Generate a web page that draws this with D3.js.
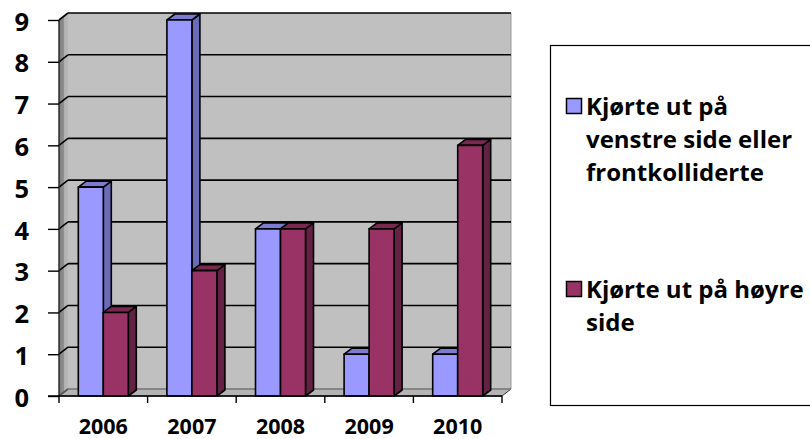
<!DOCTYPE html>
<html>
<head>
<meta charset="utf-8">
<script src="https://cdn.jsdelivr.net/npm/d3@7"></script>
<style>
  html, body { margin: 0; padding: 0; background: #ffffff; }
  svg { display: block; }
</style>
</head>
<body>
<svg id="chart" width="810" height="439"></svg>
<script>
// Ulykker fordelt på utforkjøringstype, 2006–2010
const years = ["2006", "2007", "2008", "2009", "2010"];
const venstreSide = [5, 9, 4, 1, 1];
const hoyreSide = [2, 3, 4, 4, 6];
const yTicks = [0, 1, 2, 3, 4, 5, 6, 7, 8, 9];
const seriesNames = ["Kjørte ut på venstre side eller frontkolliderte", "Kjørte ut på høyre side"];
const legendLines = [
  ["Kjørte ut på", "venstre side eller", "frontkolliderte"],
  ["Kjørte ut på høyre", "side"]
];

const series = [venstreSide, hoyreSide];
const colors = [
  { front: "#9999ff", side: "#6a6ab8", top: "#7b7bd0" },
  { front: "#993366", side: "#632144", top: "#7a2850" }
];

const svg = d3.select("#chart");
const FONT = "'Open Sans', 'DejaVu Sans', sans-serif";

// plot geometry: front plane and wall depth offset
const x = d3.scaleBand().domain(years).range([59, 502]).paddingInner(0).paddingOuter(0);
const xs = d3.scaleBand().domain([0, 1]).range([0, x.bandwidth()]).paddingInner(0).paddingOuter(0.772);
const y = d3.scaleLinear().domain([0, 9]).range([396, 20]);
const wall = { dx: 9, dy: -7 };
const barDepth = { dx: 8, dy: -6 };

const x0 = x.range()[0], x1 = x.range()[1];
const yBase = y(0), yTop = y(9);

const defs = svg.append("defs");
const sideGrad = defs.append("linearGradient").attr("id", "sideWall")
  .attr("x1", "0").attr("x2", "1").attr("y1", "0").attr("y2", "0");
sideGrad.append("stop").attr("offset", "0").attr("stop-color", "#7e7e7e");
sideGrad.append("stop").attr("offset", "0.5").attr("stop-color", "#8e8e8e");
sideGrad.append("stop").attr("offset", "0.55").attr("stop-color", "#b0b0b0");
sideGrad.append("stop").attr("offset", "1").attr("stop-color", "#b8b8b8");

const poly = pts => pts.map(p => p.join(",")).join(" ");

// back wall
svg.append("rect")
  .attr("x", x0 + wall.dx).attr("y", yTop + wall.dy)
  .attr("width", x1 - x0).attr("height", yBase - yTop)
  .attr("fill", "#c0c0c0");
svg.append("line")
  .attr("x1", x1 + wall.dx).attr("x2", x1 + wall.dx)
  .attr("y1", yTop + wall.dy).attr("y2", yBase + wall.dy)
  .attr("stroke", "#9a9a9a").attr("stroke-width", 1);

// side wall
svg.append("polygon")
  .attr("points", poly([[x0, yBase], [x0 + wall.dx, yBase + wall.dy], [x0 + wall.dx, yTop + wall.dy], [x0, yTop]]))
  .attr("fill", "url(#sideWall)");

// floor
svg.append("polygon")
  .attr("points", poly([[x0, yBase], [x1, yBase], [x1 + wall.dx, yBase + wall.dy], [x0 + wall.dx, yBase + wall.dy]]))
  .attr("fill", "#b4b4b4")
  .attr("stroke", "#333").attr("stroke-width", 1);

// gridlines on back wall and side wall
const grid = svg.append("g").attr("fill", "none").attr("stroke-width", 1.6);
yTicks.forEach(v => {
  const yy = y(v);
  grid.append("line")
    .attr("x1", x0 + wall.dx).attr("x2", x1 + wall.dx)
    .attr("y1", yy + wall.dy).attr("y2", yy + wall.dy)
    .attr("stroke", v === 0 ? "#8a8a8a" : "#000");
  grid.append("line")
    .attr("x1", x0).attr("x2", x0 + wall.dx)
    .attr("y1", yy).attr("y2", yy + wall.dy)
    .attr("stroke", v === 0 ? "#555" : "#000");
});
// side wall outline
svg.append("line")
  .attr("x1", x0).attr("x2", x0).attr("y1", yBase).attr("y2", yTop)
  .attr("stroke", "#222").attr("stroke-width", 1.4);

// bars
const barsG = svg.append("g").attr("stroke", "#000").attr("stroke-width", 1.6).attr("stroke-linejoin", "round");
years.forEach((yr, i) => {
  series.forEach((vals, s) => {
    const v = vals[i];
    const bx = x(yr) + xs(s);
    const bw = xs.bandwidth();
    const by = y(v);
    const c = colors[s];
    const g = barsG.append("g").attr("class", "bar");
    g.append("polygon")
      .attr("points", poly([[bx + bw, yBase], [bx + bw + barDepth.dx, yBase + barDepth.dy], [bx + bw + barDepth.dx, by + barDepth.dy], [bx + bw, by]]))
      .attr("fill", c.side);
    g.append("polygon")
      .attr("points", poly([[bx, by], [bx + barDepth.dx, by + barDepth.dy], [bx + bw + barDepth.dx, by + barDepth.dy], [bx + bw, by]]))
      .attr("fill", c.top);
    g.append("rect")
      .attr("x", bx).attr("y", by)
      .attr("width", bw).attr("height", yBase - by)
      .attr("fill", c.front);
  });
});

// y axis
const yAxis = d3.axisLeft(y).tickValues(yTicks).tickFormat(d3.format("d")).tickSize(11).tickPadding(19);
const yAxisG = svg.append("g").attr("transform", `translate(${x0},0)`).call(yAxis);
yAxisG.select(".domain").remove();
yAxisG.selectAll(".tick line").attr("stroke", "#000").attr("stroke-width", 1.4);
yAxisG.selectAll(".tick text")
  .attr("font-family", FONT).attr("font-weight", 700).attr("font-size", 25.5)
  .attr("fill", "#000").attr("dy", "0.40em");

// x axis line, boundary ticks and category labels
const xAxisG = svg.append("g");
xAxisG.append("line")
  .attr("x1", x0 - 11).attr("x2", x1).attr("y1", yBase).attr("y2", yBase)
  .attr("stroke", "#000").attr("stroke-width", 1.4);
const edges = years.map(d => x(d)).concat([x1]);
xAxisG.selectAll("line.tick").data(edges).join("line")
  .attr("class", "tick")
  .attr("x1", d => d).attr("x2", d => d)
  .attr("y1", yBase).attr("y2", yBase + 7)
  .attr("stroke", "#000").attr("stroke-width", 1.4);
xAxisG.selectAll("text").data(years).join("text")
  .attr("x", d => x(d) + x.bandwidth() / 2)
  .attr("y", 434)
  .attr("text-anchor", "middle")
  .attr("font-family", FONT).attr("font-weight", 700).attr("font-size", 21.5)
  .attr("fill", "#000")
  .text(d => d);

// legend
const legend = svg.append("g");
legend.append("rect")
  .attr("x", 550.5).attr("y", 45.5).attr("width", 300).attr("height", 360)
  .attr("fill", "#fff").attr("stroke", "#000").attr("stroke-width", 1.2);
const legendItems = [
  { marker: 98.5, baselines: [115, 148, 181] },
  { marker: 281.5, baselines: [298, 331] }
];
legendItems.forEach((it, s) => {
  legend.append("rect")
    .attr("x", 566.5).attr("y", it.marker).attr("width", 15).attr("height", 15)
    .attr("fill", colors[s].front).attr("stroke", "#000").attr("stroke-width", 1.5);
  const t = legend.append("text")
    .attr("font-family", FONT).attr("font-weight", 700).attr("font-size", 24)
    .attr("fill", "#000");
  t.append("title").text(seriesNames[s]);
  legendLines[s].forEach((line, k) => {
    t.append("tspan").attr("x", 586).attr("y", it.baselines[k]).text(line);
  });
});
</script>
</body>
</html>
